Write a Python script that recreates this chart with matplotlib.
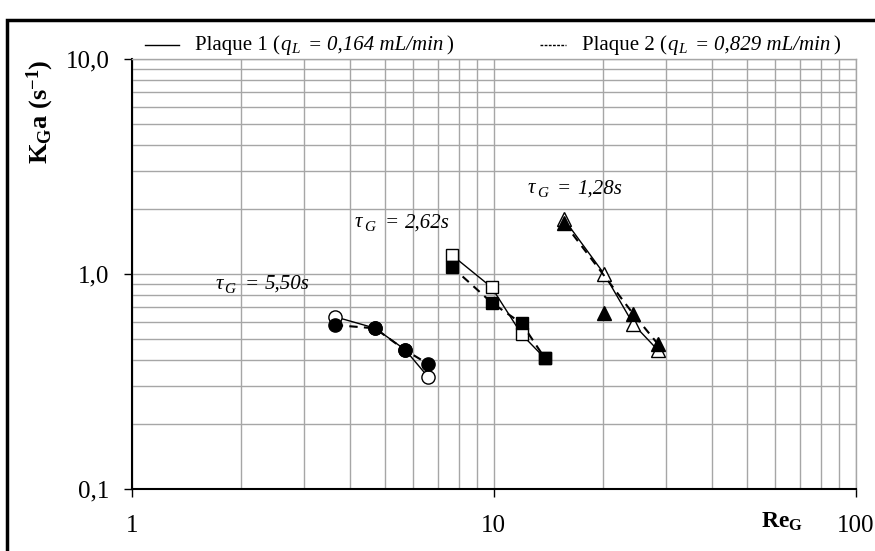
import numpy as np
import matplotlib.pyplot as plt
from matplotlib.patches import Rectangle
from matplotlib.lines import Line2D

plt.rcParams['font.family'] = ['Liberation Serif', 'DejaVu Serif']
plt.rcParams['mathtext.fontset'] = 'custom'
plt.rcParams['mathtext.rm'] = 'Liberation Serif'
plt.rcParams['mathtext.it'] = 'Liberation Serif:italic'
plt.rcParams['mathtext.bf'] = 'Liberation Serif:bold'

W, H = 875, 551

# tau_G = 5,50 s (circles)
re_circ = [3.64, 4.70, 5.69, 6.60]
kga_circ_p1 = [0.633, 0.560, 0.445, 0.331]
kga_circ_p2 = [0.579, 0.559, 0.443, 0.381]

# tau_G = 2,62 s (squares)
re_sq = [7.66, 9.87, 11.95, 13.86]
kga_sq_p1 = [1.226, 0.867, 0.524, 0.405]
kga_sq_p2 = [1.081, 0.736, 0.589, 0.405]

# tau_G = 1,28 s (triangles)
re_tri = [15.64, 20.2, 24.3, 28.4]
kga_tri_p1 = [1.80, 1.00, 0.585, 0.443]
kga_tri_p2 = [1.73, 0.66, 0.652, 0.473]
tri_p2_on_line = [True, False, True, True]

tau_values = ['5,50s', '2,62s', '1,28s']
tau_pos = [(1.70, 0.90), (4.14, 1.74), (12.4, 2.50)]

fig = plt.figure(figsize=(W / 100, H / 100), dpi=100)
ax = fig.add_axes([0.1505, 0.1125, 0.8274, 0.7804])
ax.set_xscale('log')
ax.set_yscale('log')
ax.set_xlim(1, 100)
ax.set_ylim(0.1, 10)

gridc = '#a6a6a6'
ax.grid(which='both', color=gridc, lw=1)
ax.set_axisbelow(True)

ax.set_xticks([1, 10, 100])
ax.set_xticklabels(['1', '10', '100'])
ax.set_yticks([0.1, 1, 10])
ax.set_yticklabels(['0,1', '1,0', '10,0'])
ax.tick_params(which='major', labelsize=18, length=6, width=1)
ax.tick_params(axis='x', pad=13)
ax.tick_params(axis='y', pad=10)
ax.tick_params(which='minor', length=0)

for s in ['left', 'bottom']:
    ax.spines[s].set_color('black')
    ax.spines[s].set_linewidth(1.5)
for s in ['top', 'right']:
    ax.spines[s].set_color(gridc)
    ax.spines[s].set_linewidth(1)

# Plaque 1 : open markers, solid lines
for x, y, m, ms in [(re_circ, kga_circ_p1, 'o', 9.5), (re_sq, kga_sq_p1, 's', 9), (re_tri, kga_tri_p1, '^', 10)]:
    ax.plot(x, y, '-', color='black', lw=1, marker=m, ms=ms, mfc='white', mec='black', mew=1)

# Plaque 2 : filled markers, dashed lines
ax.plot(re_circ, kga_circ_p2, '--', color='black', lw=1.5, dashes=(4, 3), marker='o', ms=9.5, mfc='black', mec='black')
ax.plot(re_sq, kga_sq_p2, '--', color='black', lw=1.5, dashes=(4, 3), marker='s', ms=9, mfc='black', mec='black')
tx = [x for x, k in zip(re_tri, tri_p2_on_line) if k]
ty = [y for y, k in zip(kga_tri_p2, tri_p2_on_line) if k]
ax.plot(tx, ty, '--', color='black', lw=1.5, dashes=(4, 3))
ax.plot(re_tri, kga_tri_p2, 'none', marker='^', ms=10, mfc='black', mec='black')

renderer = fig.canvas.get_renderer()


def chain_text(x, y, parts):
    # x, y in figure pixels (y from top, baseline); parts = (text, size, style, dy, gap)
    for s, size, style, dy, gap in parts:
        x += gap
        t = fig.text(x / W, 1 - (y + dy) / H, s, fontsize=size, style=style, va='baseline', ha='left')
        x += t.get_window_extent(renderer).width


for val, (xd, yd) in zip(tau_values, tau_pos):
    px, py = ax.transData.transform((xd, yd))
    chain_text(px, H - py + 5, [('τ', 15, 'italic', 0, 0),
                                ('G', 11, 'italic', 4, 2),
                                ('=', 15, 'italic', 0, 9),
                                (val, 15, 'italic', 0, 6)])

fig.text(40 / W, 1 - 112 / H, r'$\mathbf{K_Ga\ (s^{-1})}$', rotation=90, fontsize=19,
         ha='center', va='center')
fig.text(782 / W, 1 - 522 / H, r'$\mathbf{Re_G}$', fontsize=17, ha='center', va='center')

# legend at top
ly = 45
fig.add_artist(Line2D([145 / W, 179 / W], [1 - ly / H, 1 - ly / H], color='black', lw=1))
chain_text(195, ly + 5, [('Plaque 1 (', 15, 'normal', 0, 0),
                         ('q', 15, 'italic', 0, 0),
                         ('L', 11, 'italic', 3, 1),
                         ('=', 15, 'italic', 0, 8),
                         ('0,164 mL/min', 15, 'italic', 0, 5),
                         (')', 15, 'normal', 0, 3)])
fig.add_artist(Line2D([540 / W, 566 / W], [1 - ly / H, 1 - ly / H], color='black', lw=1, dashes=(2, 1)))
chain_text(582, ly + 5, [('Plaque 2 (', 15, 'normal', 0, 0),
                         ('q', 15, 'italic', 0, 0),
                         ('L', 11, 'italic', 3, 1),
                         ('=', 15, 'italic', 0, 8),
                         ('0,829 mL/min', 15, 'italic', 0, 5),
                         (')', 15, 'normal', 0, 3)])

fig.add_artist(Rectangle((7 / W, -0.1), 1.2, 1.1 - 20 / H, transform=fig.transFigure,
                         fill=False, ec='black', lw=2.5))

fig.savefig('out.png', dpi=100)
